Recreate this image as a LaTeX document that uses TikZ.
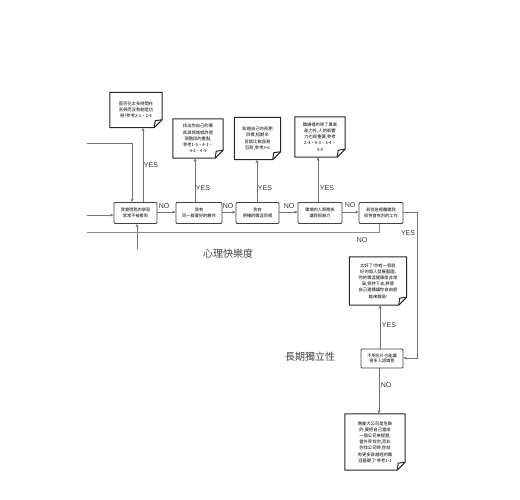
\documentclass[tikz,border=0pt]{standalone}
\usepackage{fontspec}
\newfontfamily\cjk{Noto Sans CJK TC}
\setsansfont{Liberation Sans}
\usetikzlibrary{arrows.meta}
\tikzset{
  flowbox/.style={draw=black!75, line width=0.8pt, rounded corners=1pt, minimum height=21pt, inner sep=1pt, align=center, font=\cjk\fontsize{4.2}{5.6}\selectfont},
  notebox/.style={draw=none, inner sep=0pt, align=center, font=\cjk\fontsize{4.3}{6.2}\selectfont},
  noteline/.style={draw=black!85, line width=1pt, line join=round},
  conn/.style={draw=black!55, line width=0.8pt},
  arr/.style={conn, -{Stealth[length=3.5pt,width=3pt]}},
  lbl/.style={font=\sffamily\fontsize{7}{8}\selectfont, text=black!80, inner sep=0pt},
  biglbl/.style={font=\cjk\fontsize{10}{12}\selectfont, text=black!75, inner sep=0pt}
}
\newcommand{\drawnote}[1]{%
  \draw[noteline] (#1.north west) -- (#1.north east) -- ([yshift=8pt]#1.south east)
     -- ([xshift=-8pt]#1.south east) -- (#1.south west) -- cycle;
  \draw[noteline] ([yshift=8pt]#1.south east) -- ([xshift=-7pt,yshift=7pt]#1.south east)
     -- ([xshift=-8pt]#1.south east);}
\begin{document}
\begin{tikzpicture}[x=1pt,y=-1pt]
\useasboundingbox (0,0) rectangle (520,500);
% flow boxes
\node[flowbox, minimum width=43pt] (b1) at (135.5,213) {我覺得我的學習\\常常不被看到};
\node[flowbox, minimum width=46pt] (b2) at (199,213) {我有\\同一群要好的夥伴};
\node[flowbox, minimum width=43pt] (b3) at (257.5,213) {我有\\明確的職涯目標};
\node[flowbox, minimum width=44pt] (b4) at (320,213) {職場的人際關係\\讓我很無力};
\node[flowbox, minimum width=44pt] (b5) at (381,213) {若從這裡離職我\\很快會有別的工作};
\node[flowbox, minimum width=42pt, minimum height=19pt] (b6) at (382,358.5) {不用名片也能讓\\很多人認識我};
% notes
\node[notebox, minimum width=52pt, minimum height=35pt] (nA) at (136,110) {是否花太多時間在\\苦勞而沒有創造功\\勞?參考2-1、2-4};
\node[notebox, minimum width=50pt, minimum height=39pt] (nB) at (198,138.5) {找出你自己的專\\長與領域或許是\\現階段的重點,\\參考1-5、4-1、\\4-2、4-5};
\node[notebox, minimum width=46pt, minimum height=42pt] (nC) at (257.5,138.5) {知道自己的長期\\目標,短期辛\\苦就比較容易\\忍耐,參考3-6};
\node[notebox, minimum width=50pt, minimum height=40pt] (nD) at (320,137) {職場裡的除了專業\\能力外,人的影響\\力也很重要,參考\\2-3、3-3、3-4、\\3-5};
\node[notebox, minimum width=57pt, minimum height=48pt] (nE) at (378,281) {太好了!你有一個良\\好的個人發展藍圖,\\你的職涯健康度非常\\高,保持下去,將替\\自己建構讓你自由度\\越來越高!};
\node[notebox, minimum width=60pt, minimum height=56pt] (nF) at (375,442) {聘雇大公司是危險\\的,要把自己當成\\一個公司來經營,\\當外界找你,而非\\你找公司時,你就\\有更多穿越經的職\\涯基礎了!參考1-1};
\drawnote{nA}\drawnote{nB}\drawnote{nC}\drawnote{nD}\drawnote{nE}\drawnote{nF}
% incoming lines from the left
\coordinate (inA) at (87,143);
\coordinate (inB) at (87,215);
\coordinate (inC) at (137,249);
\coordinate (loopEnd) at (87,232);
\draw[arr] (inA) -- (132,143) -- (b1.north -| 132,0);
\draw[arr] (inB) -- (b1.west |- inB);
\draw[arr] (inC) -- (b1.south -| inC);
% YES upward
\draw[arr] (b1.north -| 143,0) -- (nA.south -| 143,0);
\draw[arr] (b2.north -| 195,0) -- (nB.south -| 195,0);
\draw[arr] (b3.north -| 257,0) -- (nC.south -| 257,0);
\draw[arr] (b4.north -| 318,0) -- (nD.south -| 318,0);
\node[lbl] at (151,165) {YES};
\node[lbl] at (203,188) {YES};
\node[lbl] at (265,188) {YES};
\node[lbl] at (327,188) {YES};
% NO chain
\draw[arr] (b1.east |- 0,212) -- (b2.west |- 0,212);
\draw[arr] (b2.east |- 0,212) -- (b3.west |- 0,212);
\draw[arr] (b3.east |- 0,212) -- (b4.west |- 0,212);
\draw[arr] (b4.east |- 0,212) -- (b5.west |- 0,212);
\node[lbl] at (164,206) {NO};
\node[lbl] at (228,206) {NO};
\node[lbl] at (289,206) {NO};
\node[lbl] at (350,205) {NO};
% NO loop from b5 back to the left
\draw[conn, draw=black!45] (b5.south -| 379,0) -- (379,232) -- (loopEnd);
\node[lbl] at (362,240) {NO};
% YES from b5 down to b6
\draw[arr] (b5.east |- 0,212) -- (417,212) -- (417,358) -- (b6.east |- 0,358);
\node[lbl] at (408,233) {YES};
% b6 outcomes
\draw[arr] (b6.north -| 380,0) -- (nE.south -| 380,0);
\node[lbl] at (389,325) {YES};
\draw[arr] (b6.south -| 379,0) -- (nF.north -| 379,0);
\node[lbl] at (386,385) {NO};
% section labels
\node[biglbl] (s1) at (228,254) {心理快樂度};
\node[biglbl] (s2) at (310,357) {長期獨立性};
\end{tikzpicture}
\end{document}
